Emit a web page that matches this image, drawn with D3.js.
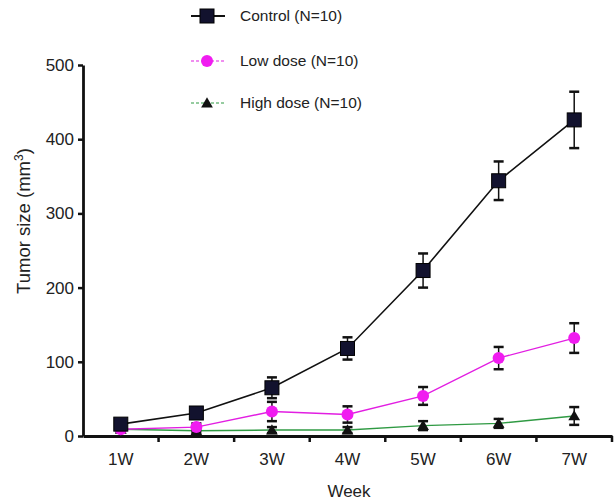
<!DOCTYPE html>
<html>
<head>
<meta charset="utf-8">
<script src="https://cdn.jsdelivr.net/npm/d3@7"></script>
<style>
  body { margin: 0; background: #fff; }
  svg { font-family: "Liberation Sans", Arial, sans-serif; }
</style>
</head>
<body>
<svg id="chart" width="614" height="501"></svg>
<script>
const weeks = ["1W", "2W", "3W", "4W", "5W", "6W", "7W"];
const yTicks = [0, 100, 200, 300, 400, 500];

const controlMean = [16, 31, 65, 118, 223, 344, 426];
const controlErr = [4, 5, 14, 15, 23, 26, 38];
const lowMean = [9, 12, 33, 29, 54, 105, 132];
const lowErr = [3, 5, 13, 11, 12, 15, 20];
const highMean = [9, 7, 8, 8, 14, 17, 27];
const highErr = [3, 3, 4, 4, 6, 6, 12];

const series = [
  { name: "Control (N=10)", mean: controlMean, err: controlErr, line: "#111111", fill: "#12122e", shape: "square", width: 1.6 },
  { name: "Low dose (N=10)", mean: lowMean, err: lowErr, line: "#e21ee2", fill: "#f01cf0", shape: "circle", width: 1.4 },
  { name: "High dose (N=10)", mean: highMean, err: highErr, line: "#2f9a43", fill: "#111111", shape: "triangle", width: 1.4 },
];

const svg = d3.select("#chart");
const margin = { left: 83, right: 2, top: 65, bottom: 65 };
const width = 614, height = 501;

const x = d3.scaleBand().domain(weeks).range([margin.left, width - margin.right]);
const y = d3.scaleLinear().domain([0, 500]).range([height - margin.bottom, margin.top]);

// Axes
const xAxis = svg.append("g")
  .attr("transform", `translate(0,${y(0)})`)
  .call(d3.axisBottom(x).tickSize(0).tickPadding(17));
xAxis.select(".domain").attr("stroke", "#111").attr("stroke-width", 2.8);
xAxis.selectAll("text").attr("font-size", "17px").attr("fill", "#222");
// tick marks between categories
xAxis.selectAll(".sep")
  .data(weeks.slice(1).concat(["end"]))
  .join("line")
  .attr("class", "sep")
  .attr("x1", (d, i) => x(weeks[0]) + (i + 1) * x.step())
  .attr("x2", (d, i) => x(weeks[0]) + (i + 1) * x.step())
  .attr("y1", 0).attr("y2", 6)
  .attr("stroke", "#111").attr("stroke-width", 2.5);

const yAxis = svg.append("g")
  .attr("transform", `translate(${margin.left},0)`)
  .call(d3.axisLeft(y).tickValues(yTicks).tickSize(5).tickPadding(4).tickSizeOuter(0));
yAxis.select(".domain").attr("stroke", "#111").attr("stroke-width", 2.8);
yAxis.selectAll(".tick line").attr("stroke", "#111").attr("stroke-width", 2.5);
yAxis.selectAll("text").attr("font-size", "17px").attr("fill", "#222");

// Axis titles
svg.append("text")
  .attr("x", 349).attr("y", 497)
  .attr("text-anchor", "middle")
  .attr("font-size", "17px").attr("fill", "#222")
  .text("Week");

const yTitle = svg.append("text")
  .attr("transform", `translate(30,221) rotate(-90)`)
  .attr("text-anchor", "middle")
  .attr("font-size", "18.5px").attr("fill", "#222");
yTitle.append("tspan").text("Tumor size (mm");
yTitle.append("tspan").attr("dy", -7).attr("font-size", "12px").text("3");
yTitle.append("tspan").attr("dy", 7).text(")");

const cx = (d, i) => x(weeks[i]) + x.bandwidth() / 2;

function drawMarker(g, shape, fill, px, py) {
  if (shape === "square") {
    g.append("rect").attr("x", px - 7).attr("y", py - 7)
      .attr("width", 14).attr("height", 14)
      .attr("fill", fill).attr("stroke", "#000").attr("stroke-width", 1);
  } else if (shape === "circle") {
    g.append("circle").attr("cx", px).attr("cy", py).attr("r", 6).attr("fill", fill);
  } else {
    g.append("path")
      .attr("d", d3.symbol(d3.symbolTriangle, 60)())
      .attr("transform", `translate(${px},${py + 1})`)
      .attr("fill", fill);
  }
}

// Draw series: high dose first so control sits on top
for (const s of series.slice().reverse()) {
  const g = svg.append("g");
  // error bars
  s.mean.forEach((m, i) => {
    const px = cx(m, i);
    const top = y(m + s.err[i]), bot = y(Math.max(0, m - s.err[i]));
    g.append("line").attr("x1", px).attr("x2", px).attr("y1", top).attr("y2", bot)
      .attr("stroke", "#111").attr("stroke-width", 1.5);
    for (const yy of [top, bot]) {
      g.append("line").attr("x1", px - 5).attr("x2", px + 5).attr("y1", yy).attr("y2", yy)
        .attr("stroke", "#111").attr("stroke-width", 2.5);
    }
  });
  g.append("path")
    .datum(s.mean)
    .attr("d", d3.line().x(cx).y((d) => y(d)))
    .attr("fill", "none")
    .attr("stroke", s.line)
    .attr("stroke-width", s.width);
  s.mean.forEach((m, i) => drawMarker(g, s.shape, s.fill, cx(m, i), y(m)));
}

// Legend
const legendY = [16, 61, 103];
series.forEach((s, i) => {
  const g = svg.append("g");
  const ly = legendY[i];
  g.append("line").attr("x1", 191).attr("x2", 225).attr("y1", ly).attr("y2", ly)
    .attr("stroke", s.line).attr("stroke-width", s.shape === "square" ? 2 : 1.2)
    .attr("stroke-dasharray", s.shape === "square" ? null : "3,2");
  drawMarker(g, s.shape, s.fill, 207, ly);
  g.append("text").attr("x", 240).attr("y", ly + 5)
    .attr("font-size", "15.5px").attr("fill", "#222")
    .text(s.name);
});
</script>
</body>
</html>
